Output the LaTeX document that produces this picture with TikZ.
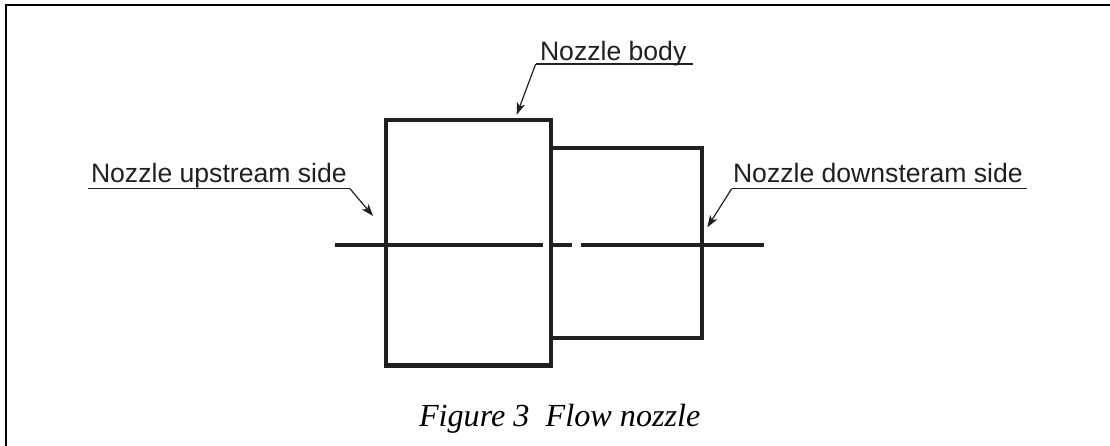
\documentclass[tikz,border=0pt]{standalone}
\usepackage{fontspec}
\setmainfont{Liberation Sans}
\newfontfamily\capfont{Liberation Serif}
\usetikzlibrary{arrows.meta}
\definecolor{ink}{HTML}{231F20}
\tikzset{
  x=1pt,y=-1pt,
  partbox/.style={draw=ink,line width=4.8pt,inner sep=0pt,outer sep=0pt,minimum width=#1},
  axisline/.style={draw=ink,line width=4.8pt},
  frameline/.style={draw=black,line width=2.5pt,line cap=butt,line join=miter},
  labeltext/.style={anchor=base west,inner sep=0pt,outer sep=0pt,text=ink,font=\fontsize{26.6}{30}\selectfont},
  leaderline/.style={draw=ink,line width=1.2pt},
  leaderarrow/.style={draw=ink,line width=1.2pt,-{Stealth[length=12pt,width=8.5pt,inset=3pt]}},
  captiontext/.style={anchor=base west,inner sep=0pt,outer sep=0pt,text=black,font=\capfont\itshape\fontsize{32.2}{36}\selectfont}
}
\begin{document}
\begin{tikzpicture}
\useasboundingbox (0,0) rectangle (1110,446);
\draw[frameline] (6,446) -- (6,5) -- (1110,5);
% parts
\node[partbox=151pt,minimum height=190pt] (down) at (626.5,243) {};
\node[partbox=165pt,minimum height=245.5pt] (body) at (468.5,242.75) {};
% axis
\coordinate (axA) at (335,245);
\coordinate (axB) at (542.7,245);
\coordinate (axC) at (553,245);
\coordinate (axD) at (572,245);
\coordinate (axE) at (581,245);
\coordinate (axF) at (764,245);
\draw[axisline] (axA) -- (axB);
\draw[axisline] (axC) -- (axD);
\draw[axisline] (axE) -- (axF);
% labels
\node[labeltext] (lbody) at (540,61) {Nozzle body};
\node[labeltext] (lup) at (91,183) {Nozzle upstream side};
\node[labeltext] (ldown) at (733,183) {Nozzle downsteram side};
\node[captiontext] (cap) at (419,426.7) {Figure 3\hspace{0.5em}Flow nozzle};
% leaders
\coordinate (bodyL) at (535.7,64);
\coordinate (bodyR) at (692.7,64);
\coordinate (bodyT) at (516.7,114.7);
\coordinate (upL) at (87.7,188.7);
\coordinate (upR) at (350,188.7);
\coordinate (upT) at (373,216);
\coordinate (downL) at (731.7,188.7);
\coordinate (downR) at (1026.7,188.7);
\coordinate (downT) at (707.3,227.3);
\draw[leaderline] (bodyR) -- (bodyL);
\draw[leaderarrow] (bodyL) -- (bodyT);
\draw[leaderline] (upL) -- (upR);
\draw[leaderarrow] (upR) -- (upT);
\draw[leaderline] (downR) -- (downL);
\draw[leaderarrow] (downL) -- (downT);
\end{tikzpicture}
\end{document}
